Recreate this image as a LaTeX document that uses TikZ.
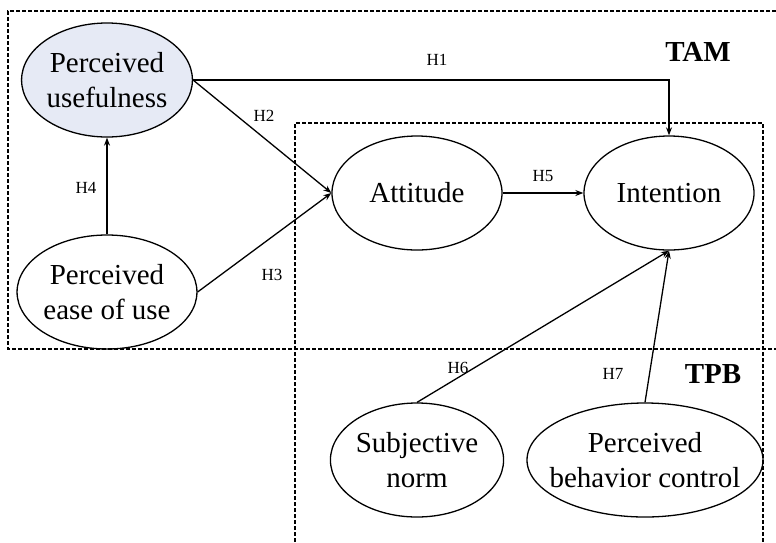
\documentclass[tikz,border=0pt]{standalone}
\usepackage{fontspec}
\setmainfont{Liberation Serif}
\usetikzlibrary{shapes.geometric,arrows.meta}
\definecolor{pufill}{RGB}{230,234,245}
\tikzset{
  construct/.style={ellipse,draw,line width=1.3pt,inner sep=0pt,minimum width=170pt,minimum height=114pt,align=center,font=\fontsize{29}{35}\selectfont},
  hyp/.style={font=\fontsize{17}{20}\selectfont},
  arr/.style={line width=1.3pt,-{Stealth[length=8pt,width=6pt]}},
  box/.style={dash pattern=on 4pt off 2pt,line width=1.2pt},
  tag/.style={font=\bfseries\fontsize{29}{34}\selectfont}
}
\begin{document}
\begin{tikzpicture}[x=1pt,y=-1pt]
\useasboundingbox (0,0) rectangle (776,542);
% boxes
\draw[box] (776,11) -- (8,11) -- (8,349) -- (776,349);
\draw[box] (295,542) -- (295,123) -- (763,123) -- (763,542);
% constructs
\node[construct,fill=pufill] (pu) at (107,80) {Perceived\\usefulness};
\node[construct] (peu) at (107,292) {Perceived\\ease of use};
\node[construct] (att) at (417,193) {Attitude};
\node[construct] (int) at (669,193) {Intention};
\node[construct] (sn) at (417,460) {Subjective\\norm};
\node[construct,inner xsep=-24pt,minimum width=236pt] (pbc) at (645,460) {Perceived\\behavior control};
% connectors
\draw[arr] (pu.east) -| (int.north);
\draw[arr] (pu.east) -- (att.west);
\draw[arr] (peu.east) -- (att.west);
\draw[arr] (peu.north) -- (pu.south);
\draw[arr] (att.east) -- (int.west);
\draw[arr] (sn.north) -- (int.south);
\draw[arr] (pbc.north) -- (int.south);
% labels
\node[hyp] (h1) at (437,60) {H1};
\node[hyp] (h2) at (264,116) {H2};
\node[hyp] (h3) at (272,275) {H3};
\node[hyp] (h4) at (86,188) {H4};
\node[hyp] (h5) at (543,176) {H5};
\node[hyp] (h6) at (458,368) {H6};
\node[hyp] (h7) at (613,374) {H7};
\node[tag] (tam) at (698,52) {TAM};
\node[tag] (tpb) at (713,374) {TPB};
\end{tikzpicture}
\end{document}
